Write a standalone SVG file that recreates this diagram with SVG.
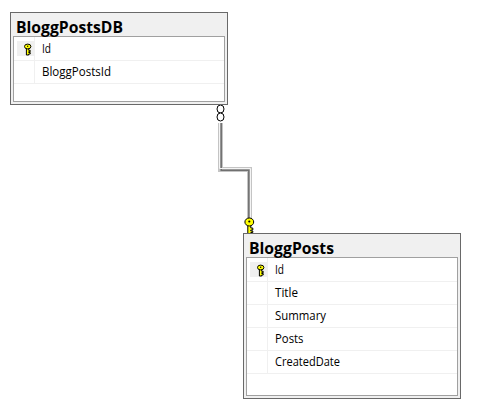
<svg xmlns="http://www.w3.org/2000/svg" width="481" height="413" viewBox="0 0 481 413">
<style>
.outer{fill:#f0f0f0;stroke:#696969;stroke-width:1}
.inner{fill:#fff;stroke:#a0a0a0;stroke-width:1}
.sep{stroke:#f0f0f0;stroke-width:1;fill:none}
.keycell{fill:#f0f0f0}
.title{font-family:"Open Sans","Noto Sans",sans-serif;font-weight:700;font-size:15.5px;fill:#000}
.col{font-family:"Open Sans","Noto Sans",sans-serif;font-size:12px;fill:#000}
.w0{fill:none;stroke:#c4c4c4;stroke-width:5}
.w1{fill:none;stroke:#f4f4f4;stroke-width:1}
.w2{fill:none;stroke:#707070;stroke-width:1.5}
.ring{fill:#fff;stroke:#000;stroke-width:1}
.keybody{fill:#ffff00;stroke:#000;stroke-width:1}
</style>
<defs>
<g id="key">
<path class="keybody" d="M-1.5 3V12H1.5V10.5H3.5V9H1.5V8H3.5V6H1.5V3Z"/>
<ellipse class="keybody" cx="0" cy="0" rx="4.4" ry="4"/>
<circle cx="0" cy="-0.5" r="1.1" fill="#000"/>
</g>
<g id="smallkey">
<path class="keybody" d="M-1.3 1V8.5H1V7.5H2.5V6H1V5.2H2.5V3.8H1V1Z" stroke-width="0.8"/>
<ellipse class="keybody" cx="0" cy="0" rx="3.2" ry="2.4" stroke-width="0.8"/>
<circle cx="0" cy="-0.3" r="0.7" fill="#000"/>
</g>
</defs>
<g id="connectors">
<path class="w0" d="M220.5 123V169.5H249.5V218"/>
<path class="w2" d="M221.2 123V170.2H248.8V218"/>
<path class="w1" d="M219.5 123V168.5H250.5V218"/>
<ellipse class="ring" cx="220.5" cy="109" rx="3.5" ry="4"/>
<ellipse class="ring" cx="220.5" cy="117" rx="3.5" ry="4"/>
<use href="#key" x="249.3" y="222"/>
</g>
<g id="BloggPostsDB">
<rect class="outer" x="10.5" y="12.5" width="217" height="92"/>
<rect class="inner" x="13.5" y="36.5" width="211" height="65"/>
<rect class="keycell" x="17" y="41" width="17" height="15"/>
<path class="sep" d="M14 60.5H224M14 83.5H224M34.5 37V83"/>
<use href="#smallkey" x="27.7" y="46.5"/>
<text class="title" x="16" y="33" textLength="107" lengthAdjust="spacingAndGlyphs">BloggPostsDB</text>
<text class="col" x="42" y="53" textLength="9" lengthAdjust="spacingAndGlyphs">Id</text>
<text class="col" x="42" y="76" textLength="69" lengthAdjust="spacingAndGlyphs">BloggPostsId</text>
</g>
<g id="BloggPosts">
<rect class="outer" x="243.5" y="233.5" width="217" height="165"/>
<rect class="inner" x="246.5" y="257.5" width="211" height="138"/>
<rect class="keycell" x="250" y="262" width="17" height="15"/>
<path class="sep" d="M247 281.5H457M247 304.5H457M247 327.5H457M247 350.5H457M247 373.5H457M267.5 258V373"/>
<use href="#smallkey" x="260.7" y="267.5"/>
<text class="title" x="249" y="254" textLength="85" lengthAdjust="spacingAndGlyphs">BloggPosts</text>
<text class="col" x="275" y="274" textLength="9" lengthAdjust="spacingAndGlyphs">Id</text>
<text class="col" x="275" y="297" textLength="23" lengthAdjust="spacingAndGlyphs">Title</text>
<text class="col" x="275" y="320" textLength="51" lengthAdjust="spacingAndGlyphs">Summary</text>
<text class="col" x="275" y="343" textLength="28.5" lengthAdjust="spacingAndGlyphs">Posts</text>
<text class="col" x="275" y="366" textLength="65" lengthAdjust="spacingAndGlyphs">CreatedDate</text>
</g>
</svg>
